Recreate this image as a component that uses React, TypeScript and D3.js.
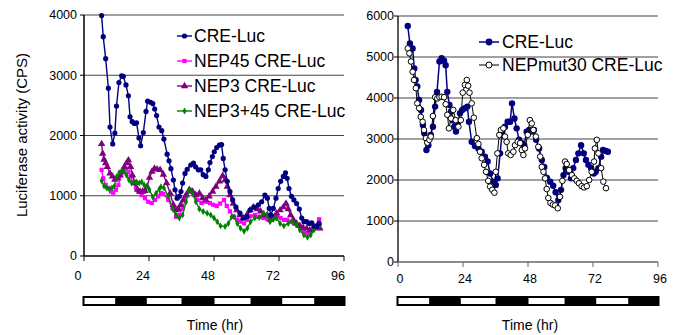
import * as d3 from 'd3';

type Pt = [number, number];

// left panel (hours, CPS)
const creLucLeft: Pt[] = [
  [6.5, 3990], [7.1, 3640], [8.0, 3275], [9.0, 2785], [9.6, 2140], [10.6, 1860], [11.4, 2040],
  [12.0, 2490], [12.9, 2880], [13.9, 2990], [14.5, 2980], [15.5, 2840], [16.4, 2660], [17.0, 2310],
  [17.8, 2230], [18.6, 2200], [19.4, 2210], [20.3, 1960], [20.9, 1830], [21.9, 2050], [22.9, 2400],
  [23.5, 2570], [24.6, 2550], [25.4, 2530], [26.1, 2440], [26.8, 2330], [27.7, 2140], [28.7, 2080],
  [29.5, 1940], [30.7, 1690], [31.4, 1580], [32.1, 1450], [33.0, 1260], [33.6, 1100], [34.4, 960],
  [35.2, 990], [35.8, 1070], [36.4, 1210], [37.3, 1370], [38.1, 1440], [39.4, 1510], [40.4, 1540],
  [41.2, 1480], [42.2, 1430], [43.1, 1430], [44.0, 1350], [45.0, 1320], [45.9, 1430], [46.5, 1550],
  [47.4, 1650], [48.1, 1730], [49.0, 1800], [50.0, 1840], [50.8, 1850], [51.4, 1620], [52.1, 1430],
  [52.9, 1240], [53.9, 1070], [54.9, 930], [56.1, 810], [57.6, 710], [58.8, 630], [60.1, 650],
  [61.3, 760], [62.8, 810], [64.4, 850], [65.6, 900], [66.8, 1010], [67.7, 960], [68.4, 790],
  [69.0, 680], [69.9, 790], [70.9, 960], [71.7, 1120], [72.6, 1240], [73.6, 1320], [74.4, 1380],
  [75.0, 1290], [75.7, 1120], [76.6, 990], [77.5, 930], [78.5, 870], [79.5, 780], [80.4, 630],
  [81.2, 570], [82.2, 570], [83.2, 540], [84.1, 550], [84.9, 500], [85.9, 490], [86.8, 540],
];

const nep45: Pt[] = [
  [6.5, 1430], [7.1, 1290], [8.0, 1180], [9.0, 1130], [10.0, 1070], [10.8, 1050], [11.8, 1100],
  [12.7, 1180], [13.7, 1340], [14.5, 1430], [15.5, 1450], [16.4, 1400], [17.2, 1320], [18.2, 1210],
  [19.2, 1130], [20.1, 1070], [21.3, 1010], [22.5, 960], [23.7, 900], [25.0, 880], [26.2, 930],
  [27.4, 990], [28.4, 1045], [29.3, 1030], [31.1, 930], [32.7, 790], [34.0, 650], [35.2, 680],
  [36.4, 790], [37.9, 1010], [39.1, 1100], [40.4, 1040], [41.8, 930], [43.4, 880], [45.0, 900],
  [46.5, 880], [47.7, 850], [49.0, 830], [50.2, 870], [51.7, 930], [52.7, 830], [53.9, 740],
  [55.4, 650], [56.6, 600], [57.8, 570], [59.1, 540], [60.3, 600], [61.5, 660], [63.1, 680],
  [64.7, 650], [66.2, 630], [67.7, 610], [68.9, 600], [70.2, 640], [71.4, 660], [72.6, 630],
  [73.8, 600], [75.0, 600], [76.3, 570], [77.5, 540], [78.8, 500], [80.0, 460], [81.2, 410],
  [82.5, 380], [83.7, 410], [85.3, 490], [86.8, 610],
];

const nep3: Pt[] = [
  [6.5, 1860], [6.9, 1700], [7.4, 1600], [8.0, 1540], [8.6, 1480], [9.6, 1370], [10.5, 1320],
  [11.4, 1270], [12.4, 1290], [13.3, 1340], [14.1, 1400], [14.9, 1480], [15.7, 1540], [16.4, 1590],
  [17.2, 1480], [17.9, 1340], [18.8, 1210], [19.8, 1100], [20.7, 1070], [21.6, 1070], [22.5, 1080],
  [23.3, 1150], [24.2, 1300], [25.1, 1400], [26.0, 1450], [27.0, 1440], [28.1, 1430], [29.3, 1350],
  [30.5, 1210], [31.8, 1040], [33.0, 850], [34.0, 760], [34.8, 780], [35.7, 850], [36.7, 930],
  [37.7, 1010], [38.9, 1100], [40.1, 1070], [41.3, 1010], [42.6, 1040], [43.8, 960], [45.0, 930],
  [46.2, 990], [47.5, 1070], [48.7, 1150], [50.0, 1240], [51.2, 1330], [52.1, 1260], [52.9, 1150],
  [53.9, 1010], [55.1, 870], [56.4, 760], [57.6, 680], [58.8, 630], [60.1, 680], [61.3, 760],
  [62.5, 810], [64.0, 780], [65.2, 740], [66.5, 680], [67.7, 680], [68.9, 600], [69.9, 630],
  [71.1, 710], [72.4, 760], [73.6, 810], [74.6, 870], [75.4, 780], [76.3, 680], [77.3, 600],
  [78.5, 540], [79.7, 500], [80.9, 470], [82.2, 460], [83.4, 430], [84.7, 460], [85.9, 490],
  [87.1, 460],
];

const nep345: Pt[] = [
  [6.5, 1250], [7.4, 1160], [8.4, 1130], [9.3, 1110], [10.3, 1130], [11.2, 1160], [12.1, 1320],
  [13.0, 1380], [13.9, 1410], [14.8, 1400], [15.7, 1340], [16.6, 1260], [17.6, 1210], [18.5, 1230],
  [19.4, 1230], [20.4, 1210], [21.3, 1230], [22.2, 1180], [23.1, 1150], [24.1, 1100], [25.4, 980],
  [26.6, 1040], [27.8, 1110], [28.4, 1150], [29.5, 1130], [31.1, 990], [32.7, 790], [34.0, 680],
  [35.2, 630], [36.4, 680], [37.7, 900], [38.9, 1100], [40.1, 1040], [41.3, 900], [42.6, 780],
  [44.0, 740], [45.5, 710], [46.8, 680], [48.0, 630], [49.2, 570], [50.4, 500], [52.1, 490],
  [53.3, 540], [54.5, 650], [55.4, 650], [56.6, 540], [57.8, 460], [59.1, 410], [60.3, 460],
  [61.5, 570], [63.1, 630], [64.7, 640], [66.2, 710], [67.4, 680], [68.7, 570], [69.9, 610],
  [71.1, 630], [72.4, 540], [73.8, 500], [75.4, 540], [77.0, 570], [78.5, 520], [79.7, 430],
  [81.2, 350], [82.5, 310], [83.7, 350], [84.9, 430], [86.1, 500], [87.1, 520],
];

// right panel
const creLucRight: Pt[] = [
  [3.6, 5756], [4.4, 5330], [5.4, 5210], [6.0, 4720], [6.5, 4440], [7.1, 4280], [7.8, 3950],
  [8.5, 3710], [9.2, 3340], [9.7, 3140], [10.5, 2730], [11.2, 2850], [12.1, 3100], [12.9, 3300],
  [13.7, 3790], [14.4, 4150], [15.3, 4890], [16.1, 4970], [17.0, 4910], [17.6, 4800], [18.2, 4150],
  [19.0, 3830], [19.6, 3670], [20.1, 3460], [20.8, 3300], [21.4, 3180], [22.0, 3380], [22.9, 3630],
  [23.7, 3710], [24.7, 3750], [25.6, 3790], [26.2, 3420], [27.2, 2930], [28.4, 2830], [29.7, 2770],
  [30.9, 2690], [32.1, 2570], [33.1, 2450], [34.0, 2160], [35.2, 1960], [36.1, 1880], [36.8, 2040],
  [37.7, 2650], [38.5, 3180], [39.5, 3300], [40.5, 3420], [41.4, 3420], [42.1, 3870], [43.0, 3500],
  [43.8, 3260], [44.7, 2980], [45.7, 2900], [46.6, 2850], [47.5, 3180], [48.4, 3220], [49.4, 3180],
  [50.2, 3220], [51.0, 2980], [52.1, 2770], [53.1, 2490], [54.0, 2320], [55.0, 2050], [56.2, 1960],
  [57.3, 1860], [58.2, 1700], [59.2, 1510], [60.2, 1760], [61.1, 2120], [61.9, 2290], [62.9, 2200],
  [63.9, 2040], [64.7, 2290], [65.7, 2490], [66.6, 2650], [67.6, 2850], [68.6, 2650], [69.4, 2490],
  [70.3, 2370], [71.3, 2290], [72.3, 2160], [73.0, 2200], [74.0, 2290], [75.0, 2570], [75.7, 2730],
  [76.7, 2710], [77.5, 2690],
];

const nepMut30: Pt[] = [
  [3.6, 5210], [4.2, 5090], [4.8, 4890], [5.4, 4640], [5.9, 4440], [6.6, 4240], [7.1, 3870],
  [7.8, 3750], [8.4, 3540], [9.1, 3420], [9.6, 3220], [10.3, 3020], [10.8, 2910], [11.6, 2980],
  [12.1, 3060], [12.9, 3560], [13.7, 4020], [14.5, 3990], [15.3, 4020], [16.1, 4030], [17.0, 4020],
  [17.6, 3850], [18.2, 3590], [18.8, 3260], [19.6, 3500], [20.4, 3710], [21.3, 3460], [22.3, 3300],
  [23.2, 3460], [23.9, 4130], [24.7, 4320], [25.4, 4440], [25.9, 4300], [26.4, 4130], [27.2, 3870],
  [28.0, 3520], [29.1, 3020], [29.7, 2880], [30.3, 2690], [30.9, 2530], [31.8, 2370], [32.5, 2200],
  [33.3, 1980], [34.0, 1840], [34.8, 1760], [35.6, 1690], [36.1, 2200], [36.7, 2650], [37.4, 3100],
  [38.0, 3220], [38.9, 3260], [39.5, 3060], [40.1, 2930], [40.7, 2650], [41.6, 2610], [42.6, 2690],
  [43.2, 2850], [44.2, 2930], [45.1, 2900], [45.7, 2730], [46.3, 2610], [46.9, 2770], [47.9, 3100],
  [48.7, 3460], [49.4, 3380], [50.0, 3220], [50.9, 3060], [51.8, 2810], [52.5, 2570], [53.1, 2320],
  [53.7, 2200], [54.3, 2040], [54.9, 1780], [55.5, 1560], [56.3, 1440], [57.2, 1400], [58.0, 1380],
  [59.0, 1310], [59.8, 1590], [60.7, 1980], [61.7, 2450], [62.3, 2390], [63.2, 2240], [64.2, 2120],
  [65.1, 2040], [66.0, 1980], [66.8, 1920], [67.8, 1850], [68.7, 1820], [69.7, 1850], [70.6, 2000],
  [71.5, 2200], [72.4, 2450], [72.7, 2770], [73.4, 2980], [74.0, 2650], [75.0, 2290], [75.8, 1960],
  [76.8, 1800],
];

const xTicks = [0, 24, 48, 72, 96];
const leftYTicks = [0, 1000, 2000, 3000, 4000];
const rightYTicks = [0, 1000, 2000, 3000, 4000, 5000, 6000];
// light phases (hours) of the light/dark bar
const lightPhases: Pt[] = [[0, 11.5], [23, 36], [48, 61.5], [73, 85]];

const leftSeries = [
  { name: 'NEP45 CRE-Luc', data: nep45, color: '#ff00ff', shape: 'square' },
  { name: 'NEP3 CRE-Luc', data: nep3, color: '#800080', shape: 'triangle' },
  { name: 'NEP3+45 CRE-Luc', data: nep345, color: '#008000', shape: 'diamond' },
  { name: 'CRE-Luc', data: creLucLeft, color: '#000080', shape: 'circle' },
];
const leftLegend = ['CRE-Luc', 'NEP45 CRE-Luc', 'NEP3 CRE-Luc', 'NEP3+45 CRE-Luc'];

const FONT = '"Liberation Sans", Arial, sans-serif';

function Marker({ shape, x, y, color }: { shape: string; x: number; y: number; color: string }) {
  if (shape === 'circle') return <circle cx={x} cy={y} r={2.6} fill={color} />;
  const type =
    shape === 'square' ? d3.symbolSquare : shape === 'triangle' ? d3.symbolTriangle : d3.symbolDiamond;
  const size = shape === 'square' ? 18 : shape === 'triangle' ? 24 : 14;
  return <path d={d3.symbol().type(type).size(size)() ?? ''} transform={`translate(${x},${y})`} fill={color} />;
}

function LightBar({ x, y }: { x: d3.ScaleLinear<number, number>; y: number }) {
  return (
    <g>
      <rect x={x(0) - 1.5} y={y} width={x(96) - x(0) + 3} height={10} fill="#000" />
      {lightPhases.map(([a, b]) => (
        <rect key={a} x={x(a) + 0.5} y={y + 2} width={x(b) - x(a) - 0.5} height={6} fill="#fff" />
      ))}
    </g>
  );
}

export default function App() {
  const xL = d3.scaleLinear().domain([0, 96]).range([84, 344]);
  const yL = d3.scaleLinear().domain([0, 4000]).range([256, 15]);
  const xR = d3.scaleLinear().domain([0, 96]).range([398, 658]);
  const yR = d3.scaleLinear().domain([0, 6000]).range([262, 16]);

  const lineL = d3.line<Pt>().x((d) => xL(d[0])).y((d) => yL(d[1]));
  const lineR = d3.line<Pt>().x((d) => xR(d[0])).y((d) => yR(d[1]));

  const grid = '#444';

  return (
    <svg
      width={681}
      height={335}
      style={{ position: 'absolute', left: 0, top: 0, background: '#fff', fontFamily: FONT }}
    >
      {/* ---------- left panel ---------- */}
      {leftYTicks.slice(1).map((t) => (
        <line key={t} x1={xL(0)} x2={xL(96)} y1={yL(t)} y2={yL(t)} stroke={grid} strokeWidth={1.2} />
      ))}
      {leftYTicks.map((t) => (
        <g key={t}>
          <line x1={xL(0) - 4} x2={xL(0)} y1={yL(t)} y2={yL(t)} stroke="#000" />
          <text x={77} y={yL(t)} dy="0.35em" textAnchor="end" fontSize={12.5}>
            {t}
          </text>
        </g>
      ))}
      <line x1={xL(0)} x2={xL(0)} y1={yL(4000)} y2={yL(0)} stroke="#000" strokeWidth={1.5} />
      <line x1={xL(0)} x2={xL(96)} y1={yL(0)} y2={yL(0)} stroke="#000" strokeWidth={1.5} />
      {xTicks.map((t) => (
        <g key={t}>
          <line x1={xL(t)} x2={xL(t)} y1={yL(0)} y2={yL(0) + 5} stroke="#000" />
          <text x={xL(t) - 6} y={276} dy="0.35em" textAnchor="middle" fontSize={12.5}>
            {t}
          </text>
        </g>
      ))}
      <text
        transform={`translate(22,135) rotate(-90)`}
        textAnchor="middle"
        dy="0.35em"
        fontSize={15}
      >
        Luciferase activity (CPS)
      </text>

      {leftSeries.map((s) => (
        <g key={s.name}>
          <path d={lineL(s.data) ?? ''} fill="none" stroke={s.color} strokeWidth={1.4} />
          {s.data.map((d, i) => (
            <Marker key={i} shape={s.shape} x={xL(d[0])} y={yL(d[1])} color={s.color} />
          ))}
        </g>
      ))}

      {leftLegend.map((name, i) => {
        const s = leftSeries.find((d) => d.name === name)!;
        const cy = 36 + i * 25;
        return (
          <g key={name}>
            <line x1={177} x2={192} y1={cy} y2={cy} stroke={s.color} strokeWidth={1.4} />
            <Marker shape={s.shape} x={184.5} y={cy} color={s.color} />
            <text x={194} y={cy} dy="0.36em" fontSize={17.5}>
              {name}
            </text>
          </g>
        );
      })}

      <LightBar x={xL} y={296} />
      <text x={215} y={330} textAnchor="middle" fontSize={14}>
        Time (hr)
      </text>

      {/* ---------- right panel ---------- */}
      {rightYTicks.slice(1).map((t) => (
        <line key={t} x1={xR(0)} x2={xR(96)} y1={yR(t)} y2={yR(t)} stroke={grid} strokeWidth={1.2} />
      ))}
      {rightYTicks.map((t) => (
        <g key={t}>
          <line x1={xR(0) - 4} x2={xR(0)} y1={yR(t)} y2={yR(t)} stroke="#000" />
          <text x={394} y={yR(t)} dy="0.35em" textAnchor="end" fontSize={12.5}>
            {t}
          </text>
        </g>
      ))}
      <line x1={xR(0)} x2={xR(0)} y1={yR(6000)} y2={yR(0)} stroke="#000" strokeWidth={1.3} />
      <line x1={xR(0)} x2={xR(96)} y1={yR(0)} y2={yR(0)} stroke="#666" strokeWidth={1.3} />
      {xTicks.map((t) => (
        <g key={t}>
          <line x1={xR(t)} x2={xR(t)} y1={yR(0)} y2={yR(0) + 5} stroke="#666" />
          <text x={xR(t) + 2} y={279} dy="0.35em" textAnchor="middle" fontSize={12.5}>
            {t}
          </text>
        </g>
      ))}

      <path d={lineR(creLucRight) ?? ''} fill="none" stroke="#000080" strokeWidth={1.5} />
      {creLucRight.map((d, i) => (
        <circle key={i} cx={xR(d[0])} cy={yR(d[1])} r={3.2} fill="#000080" />
      ))}
      <path d={lineR(nepMut30) ?? ''} fill="none" stroke="#000" strokeWidth={1} />
      {nepMut30.map((d, i) => (
        <circle key={i} cx={xR(d[0])} cy={yR(d[1])} r={2.8} fill="#fff" stroke="#000" strokeWidth={1} />
      ))}

      <g>
        <line x1={479} x2={499} y1={42} y2={42} stroke="#000080" strokeWidth={1.5} />
        <circle cx={489} cy={42} r={3.4} fill="#000080" />
        <text x={502} y={42} dy="0.36em" fontSize={17.5}>
          CRE-Luc
        </text>
        <line x1={479} x2={499} y1={65} y2={65} stroke="#000" strokeWidth={1} />
        <circle cx={489} cy={65} r={3} fill="#fff" stroke="#000" />
        <text x={502} y={65} dy="0.36em" fontSize={17.5}>
          NEPmut30 CRE-Luc
        </text>
      </g>

      <LightBar x={xR} y={296} />
      <text x={530} y={330} textAnchor="middle" fontSize={14}>
        Time (hr)
      </text>
    </svg>
  );
}
